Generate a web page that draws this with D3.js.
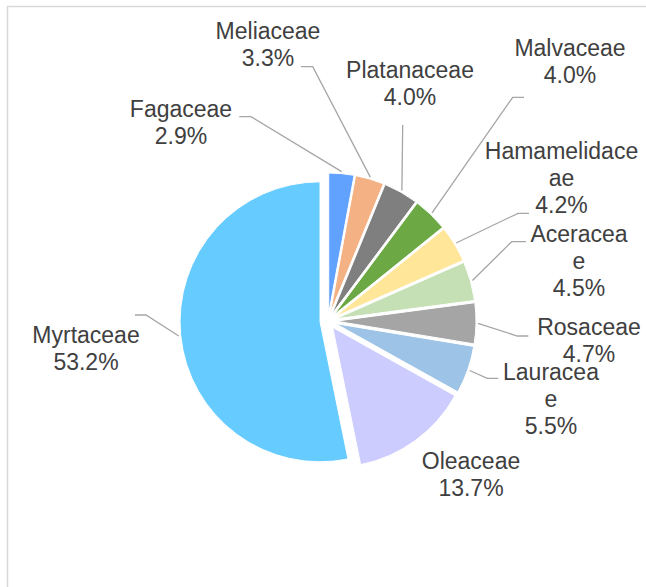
<!DOCTYPE html>
<html>
<head>
<meta charset="utf-8">
<script src="https://cdn.jsdelivr.net/npm/d3@7"></script>
<style>
  html, body { margin: 0; padding: 0; background: #fff; }
  text { font-family: Arial, "Liberation Sans", sans-serif; fill: #404040; }
</style>
</head>
<body>
<div id="chart"></div>
<script>
// data, clockwise from 12 o'clock
const families = ['Fagaceae', 'Meliaceae', 'Platanaceae', 'Malvaceae', 'Hamamelidaceae',
  'Aceraceae', 'Rosaceae', 'Lauraceae', 'Oleaceae', 'Myrtaceae'];
const shares = [2.9, 3.3, 4.0, 4.0, 4.2, 4.5, 4.7, 5.5, 13.7, 53.2];
const sliceColors = ['#62a2ff', '#f4b183', '#7f7f7f', '#6ca945', '#ffe699',
  '#c5e0b4', '#a5a5a5', '#9dc3e6', '#ccccff', '#66ccff'];

// label layout (Excel placed these by hand)
const labelAt = [[181, 116.7], [268, 38.5], [410, 78.3], [570, 56], [561.5, 159.3],
  [579, 241.7], [589, 335], [551, 380], [471, 468.5], [86, 343.3]];
const leaderTo = [[251, 239.3, 116.7], [312.7, 301, 66.7], [402.7, 402.7, 125], [512.7, 524, 97.3],
  [518, 529, 213.3], [511.7, 526, 241.7], [517.3, 528.3, 336], [487.3, 498.3, 378.3], null, [146, 135, 315]];
const wrapAt = { Hamamelidaceae: 12, Aceraceae: 8, Lauraceae: 8 };

const width = 646;
const height = 587;
const cx = 328;
const cy = 321;
const radius = 140;
const explode = 8;
const lineGap = 27;

const svg = d3.select('#chart')
  .append('svg')
  .attr('width', width)
  .attr('height', height);

// chart area border (right/bottom edges fall outside the picture)
svg.append('rect')
  .attr('x', 7.5)
  .attr('y', 6.5)
  .attr('width', 700)
  .attr('height', 700)
  .attr('fill', 'none')
  .attr('stroke', '#d9d9d9')
  .attr('stroke-width', 1.5);

const items = families.map((name, i) => ({ name, value: shares[i], color: sliceColors[i], i }));

const pie = d3.pie()
  .sort(null)
  .value((d) => d.value);

const arc = d3.arc()
  .innerRadius(0)
  .outerRadius(radius);

const arcs = pie(items);

const midAngle = (a) => (a.startAngle + a.endAngle) / 2;
const shift = (a, r) => [Math.sin(midAngle(a)) * r, -Math.cos(midAngle(a)) * r];

const g = svg.append('g')
  .attr('transform', `translate(${cx},${cy})`);

g.selectAll('path.slice')
  .data(arcs)
  .enter().append('path')
  .attr('class', 'slice')
  .attr('d', arc)
  .attr('fill', (d) => d.data.color)
  .attr('stroke', '#fff')
  .attr('stroke-width', 1)
  .attr('transform', (d) => {
    const [dx, dy] = shift(d, explode);
    return `translate(${dx},${dy})`;
  });

// leader lines
svg.append('g').selectAll('path')
  .data(arcs.filter((d) => leaderTo[d.data.i]))
  .enter().append('path')
  .attr('fill', 'none')
  .attr('stroke', '#a6a6a6')
  .attr('stroke-width', 1.3)
  .attr('d', (d) => {
    const [ex, ey] = shift(d, explode);
    const [ox, oy] = shift(d, radius + 2);
    const [bx, endX, ly] = leaderTo[d.data.i];
    return `M${cx + ex + ox},${cy + ey + oy}L${bx},${ly}L${endX},${ly}`;
  });

function labelLines(d) {
  const name = d.data.name;
  const n = wrapAt[name];
  const lines = n ? [name.slice(0, n), name.slice(n)] : [name];
  lines.push(d3.format('.1f')(d.data.value) + '%');
  return lines;
}

const labels = svg.append('g').selectAll('text')
  .data(arcs)
  .enter().append('text')
  .attr('text-anchor', 'middle')
  .attr('font-size', 23)
  .attr('x', (d) => labelAt[d.data.i][0])
  .attr('y', (d) => labelAt[d.data.i][1]);

labels.selectAll('tspan')
  .data((d) => labelLines(d).map((t) => ({ t, x: labelAt[d.data.i][0] })))
  .enter().append('tspan')
  .attr('x', (d) => d.x)
  .attr('dy', (d, k) => k === 0 ? 0 : lineGap)
  .text((d) => d.t);
</script>
</body>
</html>
